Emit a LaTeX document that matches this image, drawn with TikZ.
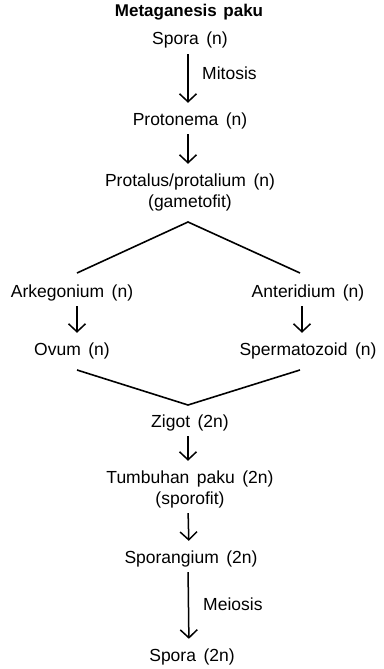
\documentclass[tikz,border=0pt]{standalone}
\usepackage{fontspec}
\setmainfont{Liberation Sans}
\usetikzlibrary{arrows.meta}
\newcommand\mylblfont{\fontsize{17.5}{21}\selectfont\spaceskip 7.5pt plus 1pt\relax}
\newcommand\myttlfont{\fontsize{17}{21}\selectfont\bfseries\spaceskip 6.5pt\relax}
\begin{document}
\begin{tikzpicture}[x=1pt,y=-1pt,
  lbl/.style={inner sep=0pt, anchor=base, font=\mylblfont,
    text height=13pt, text depth=4pt},
  ttl/.style={lbl, font=\myttlfont},
  flow/.style={line width=1.5pt, -{Straight Barb[length=8pt,width=17pt]}, shorten <=5pt, shorten >=9pt},
  link/.style={line width=1.6pt}
]
\useasboundingbox (0,0) rectangle (383,669);
\node[ttl] (title) at (189,17) {Metaganesis paku};
\node[lbl] (spora) at (190,45) {Spora (n)};
\node[lbl] (proto) at (190,125) {Protonema (n)};
\node[lbl] (protal) at (190,186) {Protalus/protalium (n)};
\node[lbl] (gamet) at (190,207) {(gametofit)};
\node[lbl] (ark) at (72,297) {Arkegonium (n)};
\node[lbl] (ovum) at (72,355) {Ovum (n)};
\node[lbl] (ant) at (308,297) {Anteridium (n)};
\node[lbl] (sperm) at (308,355) {Spermatozoid (n)};
\node[lbl] (zigot) at (190,427) {Zigot (2n)};
\node[lbl] (tumb) at (190,483) {Tumbuhan paku (2n)};
\node[lbl] (sporo) at (190,504) {(sporofit)};
\node[lbl] (spang) at (191,563) {Sporangium (2n)};
\node[lbl] (spora2) at (192,661) {Spora (2n)};
\node[lbl, anchor=base west] (mitosis) at (202,80) {Mitosis};
\node[lbl, anchor=base west] (meiosis) at (203,610) {Meiosis};

\coordinate (apex1) at (188,222);
\coordinate (arkend) at (77,273);
\coordinate (antend) at (300,273);
\coordinate (ovend) at (77,370);
\coordinate (spend) at (300,370);
\coordinate (apex2) at (188,405);

\draw[flow] ([xshift=-2pt]spora.south) -- ([xshift=-2pt]proto.north);
\draw[flow] ([xshift=-2pt]proto.south) -- ([xshift=-2pt]protal.north);
\draw[flow] ([xshift=5pt]ark.south) -- ([xshift=5pt]ovum.north);
\draw[flow] ([xshift=-6pt]ant.south) -- ([xshift=-6pt]sperm.north);
\draw[flow] ([xshift=-2pt]zigot.south) -- ([xshift=-2pt]tumb.north);
\draw[flow] ([xshift=-2pt]sporo.south) -- ([xshift=-2pt]spang.north);
\draw[flow] ([xshift=-3pt]spang.south) -- ([xshift=-3pt]spora2.north);

\draw[link] (arkend) -- (apex1) -- (antend);
\draw[link] (ovend) -- (apex2) -- (spend);
\end{tikzpicture}
\end{document}
